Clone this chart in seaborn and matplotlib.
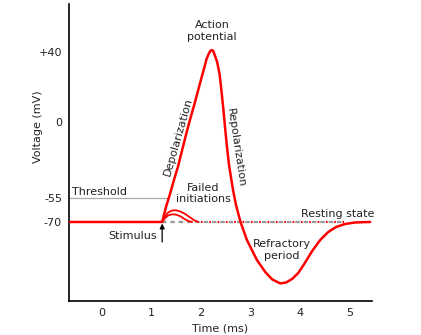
import matplotlib
matplotlib.use("Agg")
import matplotlib.pyplot as plt
import seaborn as sns
import pandas as pd

# Schematic action potential (time in ms, voltage in schematic plot units)
ap_time = [-0.66, 1.222, 1.30, 1.38, 1.46, 1.545, 1.626, 1.707, 1.788, 1.869, 1.939,
           2.010, 2.071, 2.119, 2.165, 2.195, 2.222, 2.253, 2.283, 2.333, 2.384, 2.424, 2.459, 2.491,
           2.527, 2.572, 2.653, 2.713, 2.804, 2.933, 3.135, 3.303, 3.444, 3.606, 3.727,
           3.848, 3.970, 4.091, 4.253, 4.414, 4.576, 4.737, 4.919, 5.121, 5.424]
ap_volt = [-70, -70, -60.6, -52.5, -43.75, -35, -25, -15, -5.6, 3.1, 11.25,
           19.4, 26.25, 31.9, 35.3, 36.9, 37.5, 36.9, 34.4, 30, 21.9, 10.6, 0, -10.6,
           -21.9, -34.4, -50, -59.4, -70, -81.25, -93.75, -101.25, -105.9, -108.4, -107.8,
           -105.6, -101.9, -96.25, -88.1, -81.25, -76.25, -73.1, -71.25, -70.3, -70]

fail1_time = [1.222, 1.283, 1.343, 1.424, 1.505, 1.586, 1.687, 1.788, 1.869, 1.949]
fail1_volt = [-70, -66.25, -64.06, -62.8, -62.7, -63.4, -65, -67.2, -68.9, -70]
fail2_time = [1.222, 1.283, 1.343, 1.424, 1.505, 1.586, 1.667, 1.747, 1.828]
fail2_volt = [-70, -67.5, -65.9, -65.2, -65.4, -66.4, -68, -69.4, -70]

ytick_pos = [36.25, -7.5, -55, -70]
ytick_labels = ["+40", "0", "-55", "-70"]
xtick_pos = [0, 1, 2, 3, 4, 5]
xtick_labels = ["0", "1", "2", "3", "4", "5"]

threshold_v = -55
rest_v = -70
stim_t = 1.222

sns.set_theme(style="white")
plt.rcParams['font.family'] = ['DejaVu Sans']
txt = '#222222'

fig = plt.figure(figsize=(4.21, 3.35), dpi=100)
ax = fig.add_axes([69/421, 1 - 301/335, (372 - 69)/421, (301 - 4)/335])

# threshold line
ax.plot([-0.66, 1.343], [threshold_v, threshold_v], color='#aaaaaa', lw=0.9, zorder=1)
# resting dashed line (gray dashes with red dots in the gaps)
ax.plot([stim_t, 4.9], [rest_v, rest_v], color='#999999', lw=1.6,
        linestyle=(0, (2.0, 1.75)), zorder=2)
ax.plot([1.949, 4.9], [rest_v, rest_v], color='red', lw=1.5,
        linestyle=(2.6, (0.8, 3.2)), zorder=3)

df_ap = pd.DataFrame({"t": ap_time, "v": ap_volt})
df_f1 = pd.DataFrame({"t": fail1_time, "v": fail1_volt})
df_f2 = pd.DataFrame({"t": fail2_time, "v": fail2_volt})
sns.lineplot(data=df_f1, x="t", y="v", ax=ax, color='red', lw=1.3, sort=False, estimator=None, zorder=4)
sns.lineplot(data=df_f2, x="t", y="v", ax=ax, color='red', lw=1.3, sort=False, estimator=None, zorder=4)
sns.lineplot(data=df_ap, x="t", y="v", ax=ax, color='red', lw=1.8, sort=False, estimator=None, zorder=5)
for ln in ax.lines[2:]:
    ln.set_solid_joinstyle('round')

ax.set_xlim(-0.66, 5.46)
ax.set_ylim(-119.4, 66.25)
ax.set_xticks(xtick_pos)
ax.set_xticklabels(xtick_labels)
ax.set_yticks(ytick_pos)
ax.set_yticklabels(ytick_labels)
ax.tick_params(axis='both', length=0, labelsize=8, labelcolor=txt)
ax.tick_params(axis='x', pad=5)
ax.tick_params(axis='y', pad=5)
for s in ['top', 'right']:
    ax.spines[s].set_visible(False)
for s in ['left', 'bottom']:
    ax.spines[s].set_color('black')
    ax.spines[s].set_linewidth(1.2)

ax.set_xlabel("Time (ms)", fontsize=8, color=txt, labelpad=4)
ax.set_ylabel("Voltage (mV)", fontsize=8, color=txt)
ax.yaxis.set_label_coords(-0.085, 0.586)

fs = 8
ax.text(2.23, 49.4, "Action\npotential", ha='center', va='center', fontsize=fs, color=txt)
ax.text(2.05, -52.3, "Failed\ninitiations", ha='center', va='center', fontsize=fs, color=txt)
ax.text(-0.596, -51.25, "Threshold", ha='left', va='center', fontsize=fs, color=txt)
ax.text(1.121, -78.75, "Stimulus", ha='right', va='center', fontsize=fs, color=txt)
ax.text(4.76, -65.2, "Resting state", ha='center', va='center', fontsize=fs, color=txt, clip_on=False)
ax.text(3.646, -87.5, "Refractory\nperiod", ha='center', va='center', fontsize=fs, color=txt)
ax.text(1.545, -16.9, "Depolarization", ha='center', va='center', fontsize=fs, color=txt,
        rotation=74, rotation_mode='anchor')
ax.text(2.717, -23.75, "Repolarization", ha='center', va='center', fontsize=fs, color=txt,
        rotation=-81.5, rotation_mode='anchor')
ax.annotate("", xy=(stim_t, -71.0), xytext=(stim_t, -82.5),
            arrowprops=dict(arrowstyle='-|>', color='black', lw=0.9, mutation_scale=7, shrinkA=0, shrinkB=0))

fig.savefig("out.png", dpi=100)
